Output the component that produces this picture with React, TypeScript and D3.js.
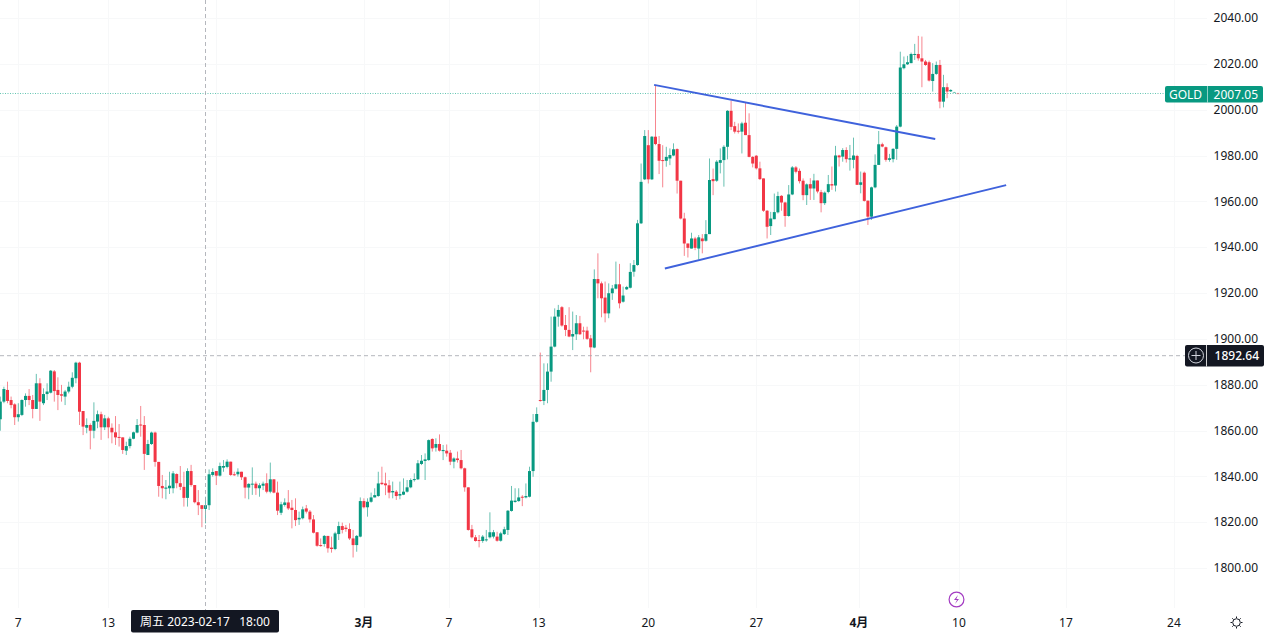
import React from "react";
import * as d3 from "d3";

type Row = [number, number, number, number];

// open, high, low, close (4h candles)
const candlesFeb: Row[] = [
[1864.9,1874.8,1859.9,1872.6],[1872.6,1879.1,1871.9,1878.1],[1877.7,1881.3,1871.9,1872.9],[1873.3,1874.8,1869.7,1871.1],[1871.4,1871.9,1862.4,1865.8],[1865.8,1871.9,1863.9,1867.1],[1866.8,1873.6,1866.3,1873.3],[1873.3,1876.2,1870.4,1875.1],[1875.1,1878.1,1871.1,1873.3],[1873.3,1875.5,1865.3,1869.4],
[1869.4,1884.7,1869.4,1880.6],[1880.6,1882.8,1864.2,1872.6],[1871.9,1878.4,1871.1,1875.9],[1875.9,1880.6,1873.3,1877],[1876.5,1886.4,1876.2,1886.1],[1885.8,1886.4,1872.6,1877.2],[1877.7,1883.2,1868.9,1875.5],[1875.8,1879.9,1872.6,1875.2],[1874.8,1877.7,1871.1,1877],[1877,1881.3,1876.2,1879.1],
[1879.1,1885.4,1878.4,1883],[1882.8,1890,1880.6,1889.6],[1889.6,1890,1862.4,1868.2],[1868.5,1868.5,1858,1861.7],[1861.2,1865.3,1858.8,1862.4],[1862.4,1863.1,1851.8,1859.9],[1859.9,1872.3,1856.6,1864.2],[1863.9,1868.7,1861,1867.1],[1867.1,1868.2,1855.9,1861.4],[1861.4,1866.8,1860.2,1865.3],
[1865.3,1866,1856.6,1861.4],[1861.2,1863.1,1854.4,1859.2],[1859.2,1866.3,1853.7,1857],[1857.2,1862.8,1853,1856.9],[1857,1857,1849.8,1851.5],[1851.2,1855.1,1849.3,1853.2],[1853.2,1857.3,1852.2,1856.4],[1856.4,1859.5,1856.2,1859.2],[1859.1,1865,1858.8,1862.4],[1862.6,1870.7,1857.3,1862.3],
[1862.4,1866.3,1842.8,1849.8],[1849.3,1855.9,1849.3,1854.1],[1854.1,1859.5,1853.7,1859.1],[1859.1,1859.5,1844.2,1846.3],[1846.3,1846.3,1831.1,1835.8],[1835.8,1840.6,1830.4,1834.8],[1834.6,1838.4,1830,1835.1],[1834.8,1842,1832.3,1835.9],[1834.8,1842.3,1832.6,1841.3],[1841,1841.3,1834.8,1837],
[1837,1844.5,1834,1835.4],[1835.4,1842,1826.8,1830.6],[1830.6,1843.5,1826.8,1842.3],[1842.3,1845,1835.5,1836.2],[1836.2,1836.2,1828.2,1828.7],[1828.7,1834,1823.1,1827.4],[1827.4,1827.4,1817.8,1825.8],[1825.8,1831.1,1819.5,1827.4],[1827.4,1843,1825.3,1840.9],[1840.6,1843.5,1839.9,1841.9],
[1842.3,1842.3,1836.2,1840.3],[1840.3,1846,1839.9,1844.5],[1843.8,1847.1,1842,1844.5],[1844.1,1847.4,1843.5,1846.4],[1846.4,1846.4,1840.2,1840.6],[1840.9,1842,1840.2,1840.6],[1840.9,1843.5,1839.9,1842],[1842,1842,1838.4,1839.6],[1839.6,1839.9,1830.4,1835.1],[1835.1,1837,1830,1836.7],
[1836.4,1843.9,1831.9,1836.8],[1836.8,1837.7,1831.9,1834.8],[1834.8,1837,1831.1,1836.1],[1835.9,1837.7,1834,1836.8],[1837,1841.3,1832.6,1833.3],[1833.3,1846,1832.6,1838.7],[1838.7,1838.7,1832.6,1832.9],[1832.9,1837.7,1823.1,1825],[1824.1,1828.9,1823.1,1827.8],[1827.5,1830.4,1826.8,1828.6],
[1828.6,1834,1825.3,1826],[1826.3,1829.7,1817.3,1825.3],[1825.3,1830.4,1818.3,1820.9],[1821.2,1824.6,1818.8,1821.9],[1821.7,1826.8,1821.2,1825.6],[1826,1827.5,1823.8,1824.6],[1824.6,1825.3,1819.8,1821.2],[1821.2,1823.1,1815.1,1815.4],[1815.6,1815.6,1809.3,1809.7],[1810,1812.9,1809.3,1809.6],
[1810.5,1814.4,1809.3,1814],[1814,1814,1806.7,1808.6],[1808.9,1813.7,1806.7,1808.3],[1808.3,1815.8,1807.8,1815.1],[1814.8,1820.2,1812.2,1818.3],[1818.3,1819.8,1815.1,1816.6],[1817.6,1818.8,1815.8,1817],[1817,1819.5,1812.2,1812.9],[1812.9,1816.6,1804.6,1810],[1810,1814.4,1807.1,1814],
];
const candlesMar: Row[] = [
[1813.7,1830.8,1813.4,1829.2],[1829.2,1830.4,1826,1826.5],[1826.5,1830.4,1822.4,1828.9],[1828.9,1832.9,1828.5,1830.8],[1830.8,1834.8,1830.8,1831.8],[1831.4,1842,1831.1,1836.9],[1837.2,1844.2,1836.2,1836.6],[1836.9,1841.6,1831.8,1836.1],[1836.1,1838.4,1830.4,1832.9],[1833,1837.7,1830.4,1833.6],
[1833.3,1834,1829.7,1831.4],[1831.6,1837.7,1830,1832.3],[1832,1839.1,1831.8,1833.3],[1833.3,1838.4,1832.9,1835.2],[1835.2,1839.1,1834.8,1838.4],[1838.4,1841.3,1837.7,1838.8],[1838.7,1847.1,1838.4,1845.7],[1845.4,1849.3,1844.9,1846.8],[1846.7,1850,1838.4,1847.4],[1847.1,1856.1,1846.8,1855.8],
[1856.3,1856.6,1850.8,1852.2],[1852.5,1856.6,1850.8,1854.1],[1854.1,1858.3,1850.8,1851.2],[1851,1853.7,1847.1,1851.5],[1851.2,1853.9,1848.6,1850],[1850.3,1851.5,1844.9,1846.4],[1846.4,1848.3,1843.5,1847.8],[1847.8,1850.8,1846,1847.1],[1847.1,1851.5,1843,1843.5],[1843.5,1843.8,1833.3,1835.2],
[1835.2,1835.2,1816.3,1816.6],[1816.9,1818.8,1812.9,1813.4],[1813.4,1814.4,1811.5,1811.8],[1812.2,1814.4,1809,1811.9],[1811.8,1814.4,1811,1813.7],[1812.1,1816.6,1811.5,1812.5],[1813.4,1824.3,1812.9,1815.6],[1813.7,1816.6,1812.9,1815.6],[1813.7,1815.8,1811.5,1811.9],[1811.9,1815.8,1811.5,1815.1],
[1814.8,1818,1814.4,1816.9],[1816.6,1825.3,1814.4,1825],[1824.9,1835.8,1824.6,1829.4],[1828.8,1834.8,1828.5,1829.4],[1829.2,1834.8,1828.9,1830.8],[1831.1,1831.8,1827,1830.8],[1830.8,1836.9,1830.4,1831.4],[1831.1,1844.2,1830.8,1842.3],[1842.3,1867.2,1839.8,1863.8],[1863.8,1870.1,1863.4,1867.2],
[1873.3,1894,1872.6,1873],[1872.9,1889.3,1871.1,1877.7],[1877.7,1889.3,1871.9,1885.7],[1885.7,1909.7,1881.3,1896.6],[1896.6,1913.3,1896.3,1909.7],[1909.7,1914.8,1905.3,1912.6],[1913.8,1914.3,1905.3,1905.8],[1906,1910.4,1901.2,1903.9],[1903.9,1913.8,1900.7,1901],[1901,1911.9,1895.1,1902.1],
[1902,1910.4,1899.5,1906.8],[1906.8,1910,1901.7,1902],[1903.6,1905.3,1899.8,1903.4],[1903.6,1905.3,1899.5,1900],[1900.2,1901.7,1885.4,1896.3],[1896.2,1930.3,1895.9,1926.1],[1926.1,1937.3,1917.7,1924.2],[1924.2,1925,1909.4,1917.7],[1918,1925,1907.2,1911.1],[1911.1,1924.2,1909,1919.9],
[1919.9,1923.5,1917,1922],[1921.9,1933.7,1921.6,1923.8],[1923.8,1932.7,1913.3,1915.5],[1916.2,1922.8,1915.8,1918.9],[1921.6,1923.1,1921.3,1922.6],[1922.3,1933,1922,1929.2],[1929.3,1934.4,1927.1,1932.2],[1932.2,1951.9,1931.9,1950.4],[1950.4,1976.5,1950.1,1968.5],[1969.6,1991.1,1969.3,1988.5],
[1984.5,1991.1,1967.8,1969.6],[1969.6,1988.5,1969.3,1988.2],[1988.2,2010.7,1984.5,1985],[1985,1988.5,1971.9,1977.7],[1978,1984.5,1966.1,1977.6],[1977.7,1983.8,1975.1,1979.4],[1978.7,1983.1,1975.8,1980.2],[1980,1985.3,1979.7,1982.7],[1982.8,1983.1,1963.4,1969],[1969,1969,1952.1,1952.5],
[1952.5,1955,1936.2,1941.6],[1941.6,1941.6,1935.5,1939.7],[1939.4,1946.3,1939.4,1943.8],[1943.8,1944.5,1938.7,1939.7],[1939.4,1945.3,1934.6,1944.3],[1943.8,1945.7,1937.3,1942.6],[1942.8,1951.8,1942.4,1945.7],[1945.7,1978.7,1945.7,1969.3],[1969.7,1974.3,1962.7,1968.8],[1969,1978,1968.5,1977.3],
[1976.8,1983.1,1972.2,1978],[1978,1984.5,1966.4,1983.8],[1983.8,1999.8,1978.3,1999.5],[1999.5,2003.9,1991.1,1992.5],[1992.8,1994.7,1989.6,1990.4],[1990.8,1994,1989.6,1990.4],[1990.4,1994.7,1980.9,1994],[1994.3,2003,1988.9,1988.9],[1988.9,1998.4,1979.2,1979.4],[1979.4,1979.7,1974.8,1976.5],
[1979.9,1980.2,1973.9,1974.4],[1974.4,1977.3,1969.3,1969.7],[1970,1970,1955.4,1955.9],[1955.9,1956.2,1943.8,1948.9],[1949.2,1955.4,1945.3,1952.5],[1952.2,1963.4,1952.2,1955.3],[1955.2,1964.2,1954.7,1962.3],[1962.4,1962.7,1955.9,1959.5],[1959.5,1959.8,1948.9,1953.6],[1953.6,1967.1,1953.3,1963],
[1963,1975.4,1962.7,1974.8],[1974.8,1975.4,1972.2,1972.9],[1973.3,1974.3,1967.8,1968.8],[1969,1970,1960.5,1962.7],[1962.7,1967.8,1958.4,1967.4],[1967.5,1970.1,1960.6,1965.6],[1965.6,1972,1960.6,1969.1],[1969.1,1969.1,1963.5,1964.3],[1964,1965,1955.2,1959.2],[1959.2,1964.3,1958.4,1963.8],
[1964.1,1971.5,1963.5,1967.5],[1967.5,1975.2,1965,1966.9],[1966.9,1984.2,1964.3,1980],[1980,1980.3,1975.2,1979.2],[1979.5,1983.2,1977.3,1982.4],[1982.4,1983.6,1976.9,1978.4],[1978.2,1984.6,1973.4,1978.8],[1978.1,1987.8,1974.4,1980],
];
const candlesApr: Row[] = [
[1979.8,1980.3,1967.2,1967.2],[1967.2,1973,1963.5,1968.3],[1972.5,1973,1959.9,1960.2],[1960.3,1960.3,1949.7,1953.3],[1953.3,1966.4,1951.9,1966.1],[1966.1,1980.5,1965.7,1975.9],[1975.9,1990.7,1975.9,1984.9],[1984.9,1985.6,1983.6,1983.9],[1983.6,1983.9,1977.3,1978.1],[1978.1,1980.7,1977.3,1978.8],
[1978.4,1983.2,1977,1982.9],[1982.9,1993.3,1978.1,1992.6],[1992.6,2025.3,1992.3,2018.4],[2018.1,2023.2,2017.6,2019.8],[2019.8,2023.5,2019.5,2020.7],[2020.3,2024.9,2020.3,2024.3],[2024,2028.7,2021.7,2024.3],[2024.3,2032.2,2021.4,2022.4],[2022.4,2031.9,2009.8,2021],[2021,2021.7,2019.1,2019.5],
[2020.7,2021.4,2012.3,2012.7],[2012.5,2020.3,2007.9,2015.6],[2015.6,2021,2015.2,2019.5],[2019.5,2021.7,2000.6,2003.5],[2003.5,2015.2,2001,2009.8],[2009.8,2011.5,2005,2007.9],[2008,2008.9,2007.7,2008.6],[2007.6,2007.8,2007.3,2007.7],[2007.2,2007.4,2006.9,2007.05],
];
const candles: Row[] = [...candlesFeb, ...candlesMar, ...candlesApr];

const priceTicks = [2040, 2020, 2000, 1980, 1960, 1940, 1920, 1900, 1880, 1860, 1840, 1820, 1800];
const dateLabels = ["7", "13", "", "3月", "7", "13", "20", "27", "4月", "10", "17", "24"];
const dateIndexes = [5, 30, 60, 101, 124.6, 149.6, 180, 210, 238.5, 266.3, 296, 326];
const boldLabels = ["3月", "4月"];

const lastPrice = 2007.05;
const crossPrice = 1892.64;
const crossIndex = 57;
const crossText = "周五 2023-02-17   18:00";
const symbol = "GOLD";

// [index, price] endpoints of the two drawn trend lines
const upperTrend: [number, number][] = [[181.6, 2010.8], [259.7, 1987.2]];
const lowerTrend: [number, number][] = [[184.6, 1930.7], [279.4, 1967.1]];

const UP = "#089981";
const DOWN = "#f23645";
const INK = "#131722";
const FONT = "'Noto Sans', 'Noto Sans CJK SC', sans-serif";

const W = 1268;
const H = 635;

export default function App() {
  const x = d3.scaleLinear().domain([0, 100]).range([0.3, 360.3]);
  const y = d3.scaleLinear().domain([1800, 2040]).range([568, 18]);
  const trend = d3.line<[number, number]>().x((d) => x(d[0])).y((d) => y(d[1]));
  const bodyW = 3;
  const lastY = y(lastPrice);
  const crossY = y(crossPrice);
  const crossX = x(crossIndex);

  return (
    <svg
      width={W}
      height={H}
      viewBox={`0 0 ${W} ${H}`}
      style={{ position: "fixed", left: 0, top: 0, display: "block", background: "#fff" }}
      fontFamily={FONT}
    >
      <g stroke="#f7f8f9" strokeWidth={1}>
        {priceTicks.map((p) => (
          <line key={p} x1={0} x2={1207} y1={Math.round(y(p)) + 0.5} y2={Math.round(y(p)) + 0.5} />
        ))}
        {dateIndexes.map((d) => (
          <line key={d} x1={Math.round(x(d)) + 0.5} x2={Math.round(x(d)) + 0.5} y1={0} y2={608} />
        ))}
      </g>

      <line x1={0} x2={1165} y1={lastY} y2={lastY} stroke="#3fb8a0" strokeWidth={1} strokeDasharray="1 1.5" opacity={0.8} />

      <g>
        {candles.map((c, i) => {
          const [o, h, l, cl] = c;
          const color = cl >= o ? UP : DOWN;
          const top = y(Math.max(o, cl));
          const bottom = y(Math.min(o, cl));
          return (
            <g key={i}>
              <line x1={x(i)} x2={x(i)} y1={y(h)} y2={y(l)} stroke={color} strokeWidth={1} opacity={i > 264 ? 0.35 : 0.6} />
              <rect
                x={x(i) - bodyW / 2}
                y={top}
                width={bodyW}
                height={Math.max(bottom - top, 1)}
                fill={color}
                opacity={i > 264 ? 0.4 : 1}
              />
            </g>
          );
        })}
      </g>

      <g fill="none" stroke="#3f62dc" strokeWidth={1.9}>
        <path d={trend(upperTrend) || ""} />
        <path d={trend(lowerTrend) || ""} />
      </g>

      <g stroke="#a3a6ad" strokeWidth={1} strokeDasharray="4 3" opacity={0.8}>
        <line x1={0} x2={1185} y1={crossY} y2={crossY} />
        <line x1={crossX} x2={crossX} y1={0} y2={610} />
      </g>

      <g fontSize={12} fill={INK} textAnchor="end">
        {priceTicks.map((p) => (
          <text key={p} x={1258} y={y(p)} dy="0.36em">
            {p.toFixed(2)}
          </text>
        ))}
      </g>

      <g fontSize={12} fill={INK} textAnchor="middle">
        {dateLabels.map((t, i) =>
          t ? (
            <text key={i} x={x(dateIndexes[i])} y={626.5} fontWeight={boldLabels.includes(t) ? 700 : 400}>
              {t}
            </text>
          ) : null
        )}
      </g>

      <rect x={131} y={610} width={148} height={22.5} rx={2} fill={INK} />
      <text x={205} y={626} fontSize={12} fill="#fff" textAnchor="middle" style={{ whiteSpace: "pre" }} xmlSpace="preserve">
        {crossText}
      </text>

      <rect x={1165} y={86} width={98} height={16.5} rx={2} fill={UP} />
      <line x1={1207.5} x2={1207.5} y1={86} y2={102.5} stroke="#ffffff" strokeOpacity={0.55} />
      <text x={1185.5} y={98.5} fontSize={12} fill="#fff" textAnchor="middle">
        {symbol}
      </text>
      <text x={1258} y={98.5} fontSize={12} fill="#fff" textAnchor="end">
        {lastPrice.toFixed(2)}
      </text>

      <rect x={1185} y={345} width={79} height={21.5} rx={2} fill={INK} />
      <line x1={1206.5} x2={1206.5} y1={345} y2={366.5} stroke="#ffffff" strokeOpacity={0.8} />
      <circle cx={1196} cy={355.5} r={7.5} fill="none" stroke="#d1d4dc" strokeWidth={1} />
      <path d="M1191.5 355.5H1200.5M1196 351V360" stroke="#d1d4dc" strokeWidth={1} fill="none" />
      <text x={1259} y={360} fontSize={12} fontWeight={500} fill="#fff" textAnchor="end">
        {crossPrice.toFixed(2)}
      </text>

      <circle cx={956.5} cy={599.5} r={7.4} fill="none" stroke="#a33bc2" strokeWidth={1.2} />
      <path d="M958 595L954 600H957L955 604L959 599H956.3Z" fill="#a33bc2" />

      <g fill="none" stroke={INK} strokeWidth={1}>
        <circle cx={1236.5} cy={622.5} r={3.8} />
        <path d="M1236.5 616.5V618M1236.5 627V628.5M1230.5 622.5H1232M1241 622.5H1242.5M1232.3 618.3L1233.5 619.5M1239.5 625.5L1240.7 626.7M1232.3 626.7L1233.5 625.5M1239.5 619.5L1240.7 618.3" />
      </g>
    </svg>
  );
}
